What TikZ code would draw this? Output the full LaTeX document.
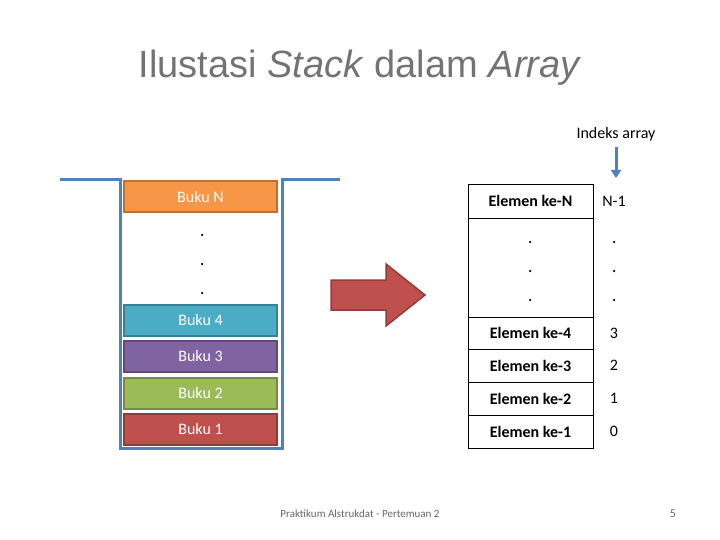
\documentclass[tikz,border=0pt]{standalone}
\usepackage{fontspec}
\setmainfont{Carlito}
\newfontfamily\titlefont{Liberation Sans}
\usetikzlibrary{arrows.meta}
\definecolor{wadah}{HTML}{4F81BD}
\definecolor{oranye}{HTML}{F79646}
\definecolor{tosca}{HTML}{4BACC6}
\definecolor{ungu}{HTML}{8064A2}
\definecolor{hijau}{HTML}{9BBB59}
\definecolor{merah}{HTML}{C0504D}
\begin{document}
\begin{tikzpicture}[x=1pt, y=-1pt,
		buku/.style={draw=#1!75!black, fill=#1, line width=2pt, minimum width=153pt, minimum height=31pt, inner sep=0pt, text=white, font=\fontsize{16}{18}\selectfont},
		sel/.style={draw, thick, outer sep=0pt, minimum width=125pt, inner sep=0pt, font=\bfseries\fontsize{16}{18}\selectfont},
		idx/.style={font=\fontsize{16}{18}\selectfont},
		titik/.style={circle, fill=black, inner sep=0pt, minimum size=2.5pt}]
		\useasboundingbox (0,0) rectangle (720,540);
		
		% judul
		\node[text=black!55, font=\titlefont\fontsize{38}{42}\selectfont] (judul) at (360,68) {Ilustasi \textit{Stack} dalam \textit{Array}};
		
		% wadah stack
		\draw[wadah, line width=3pt] (60,180) -- (120,180) -- (120,448) -- (282,448) -- (282,180) -- (340,180);
		\node[buku=oranye] (bN) at (200.5,197) {Buku N};
		\node[buku=tosca] (b4) at (200.5,320) {Buku 4};
		\node[buku=ungu] (b3) at (200.5,356.5) {Buku 3};
		\node[buku=hijau] (b2) at (200.5,393) {Buku 2};
		\node[buku=merah] (b1) at (200.5,429.5) {Buku 1};
		\foreach \y in {235,264,293}{\node[titik] at (202,\y) {};}
		
		% panah
		\draw[draw=merah!75!black, fill=merah, line width=1.5pt] (331,280) -- (386,280) -- (386,264) -- (425,295) -- (386,326) -- (386,310) -- (331,310) -- cycle;
		
		% array
		\node[sel, minimum height=34pt] (eN) at (530.5,201) {Elemen ke-N};
		\node[sel, minimum height=99pt, anchor=north] (eD) at (eN.south) {};
		\node[sel, minimum height=32pt, anchor=north] (e4) at (eD.south) {Elemen ke-4};
		\node[sel, minimum height=33pt, anchor=north] (e3) at (e4.south) {Elemen ke-3};
		\node[sel, minimum height=33pt, anchor=north] (e2) at (e3.south) {Elemen ke-2};
		\node[sel, minimum height=33pt, anchor=north] (e1) at (e2.south) {Elemen ke-1};
		\foreach \y in {242,271,300}{
			\node[titik] at (530,\y) {};
			\node[titik] at (614,\y) {};
		}
		\node[idx] (iN) at (614,201) {N-1};
		\node[idx] (i3) at (e4 -| 614,0) {3};
		\node[idx] (i2) at (e3 -| 614,0) {2};
		\node[idx] (i1) at (e2 -| 614,0) {1};
		\node[idx] (i0) at (e1 -| 614,0) {0};
		
		% indeks
		\node[idx] (indeks) at (616,134) {Indeks array};
		\coordinate (ujung) at (616,178);
		\draw[wadah, line width=3pt, -{Triangle[width=10pt,length=8pt]}] (indeks.south) ++(0,3) -- (ujung);
		
		% kaki
		\node[text=black!60, font=\fontsize{11}{12}\selectfont] (kaki) at (360,514) {Praktikum Alstrukdat - Pertemuan 2};
		\node[text=black!60, font=\fontsize{12}{12}\selectfont] (hal) at (673,514) {5};
\end{tikzpicture}
\end{document}
